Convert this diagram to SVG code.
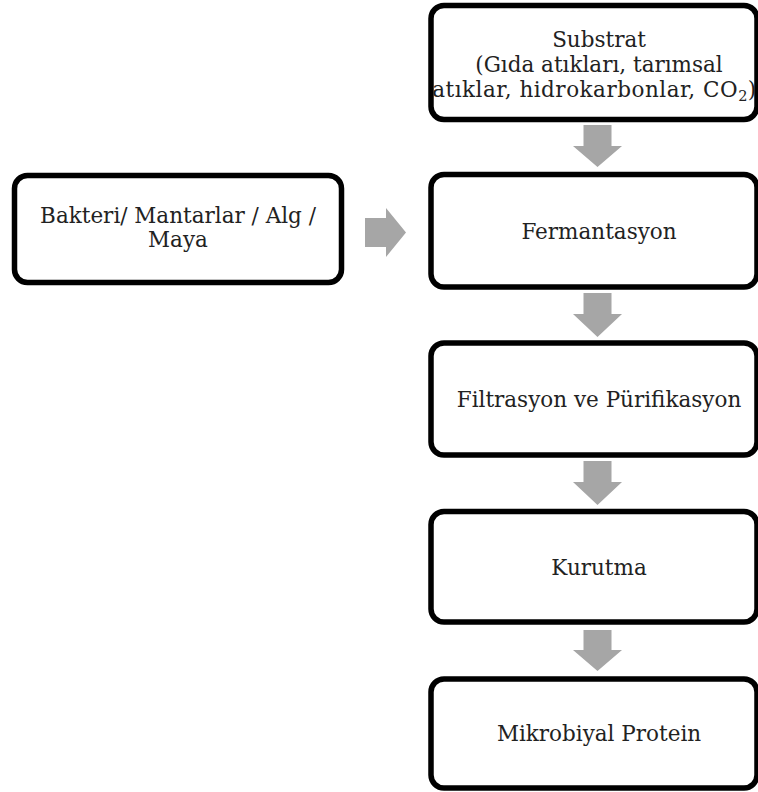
<svg xmlns="http://www.w3.org/2000/svg" width="758" height="792" viewBox="0 0 758 792">
<style>
.box{fill:#fff;stroke:#000;stroke-width:5.5}
.t{font-family:"DejaVu Serif","Liberation Serif",serif;font-size:21.5px;fill:#222;text-anchor:middle}
.arr{fill:#a6a6a6}
</style>
<rect width="758" height="792" fill="#fff"/>
<g id="n-substrat">
<rect class="box" x="431" y="5.5" width="326" height="114" rx="13"/>
<text class="t" x="599" y="47">Substrat</text>
<text class="t" x="599" y="72">(Gıda atıkları, tarımsal</text>
<text class="t" x="594.5" y="97" letter-spacing="0.5">atıklar, hidrokarbonlar, CO<tspan font-size="14.5" dy="4">2</tspan><tspan dy="-4">)</tspan></text>
</g>
<g id="n-organizma">
<rect class="box" x="14.5" y="175.5" width="327" height="107" rx="13"/>
<text class="t" x="178" y="223">Bakteri/ Mantarlar / Alg /</text>
<text class="t" x="178" y="247">Maya</text>
</g>
<g id="n-fermantasyon">
<rect class="box" x="431" y="174.5" width="326" height="112.5" rx="13"/>
<text class="t" x="599" y="238.5">Fermantasyon</text>
</g>
<g id="n-filtrasyon">
<rect class="box" x="431" y="343" width="326" height="112" rx="13"/>
<text class="t" x="599" y="407">Filtrasyon ve Pürifikasyon</text>
</g>
<g id="n-kurutma">
<rect class="box" x="431" y="511.5" width="326" height="110.5" rx="13"/>
<text class="t" x="599" y="574.5">Kurutma</text>
</g>
<g id="n-protein">
<rect class="box" x="431" y="679" width="326" height="109" rx="13"/>
<text class="t" x="599" y="741">Mikrobiyal Protein</text>
</g>
<g id="connectors">
<polygon class="arr" points="583.5,125 611.5,125 611.5,146 622,146 597.5,167 573,146 583.5,146"/>
<polygon class="arr" points="583.5,293 611.5,293 611.5,314 622,314 597.5,337 573,314 583.5,314"/>
<polygon class="arr" points="583.5,461 611.5,461 611.5,482 622,482 597.5,505 573,482 583.5,482"/>
<polygon class="arr" points="583.5,630 611.5,630 611.5,650 622,650 597.5,671 573,650 583.5,650"/>
<polygon class="arr" points="365,218 386,218 386,208 406,232.5 386,257 386,247 365,247"/>
</g>
</svg>
